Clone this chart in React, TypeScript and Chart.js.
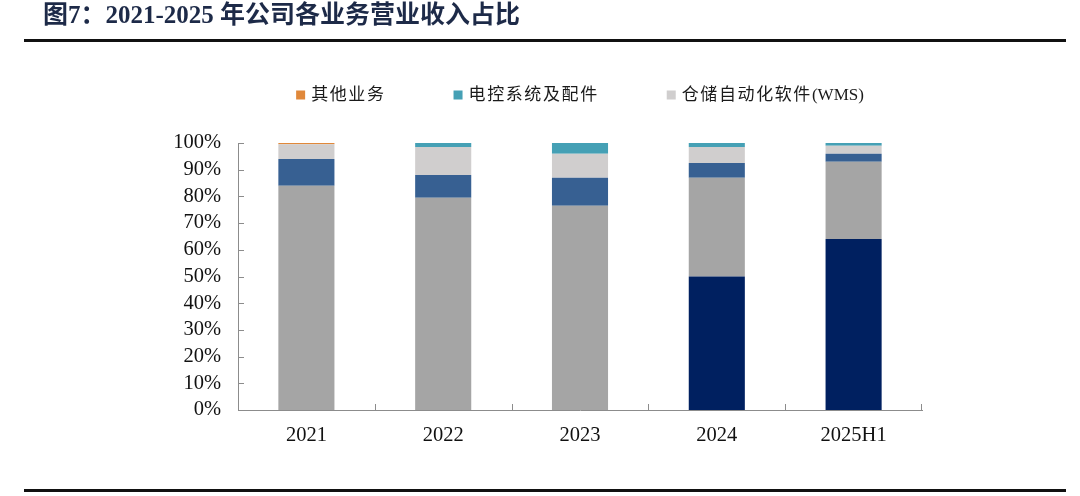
import React, { useEffect, useRef } from 'react';
import { Chart, registerables } from 'chart.js';

Chart.register(...registerables);

const titleText = '图7：2021-2025 年公司各业务营业收入占比';
const categories = ['2021', '2022', '2023', '2024', '2025H1'];
const navySeries = [0, 0, 0, 50, 64];
const graySeries = [84, 79.5, 76.5, 37, 29];
const blueSeries = [10, 8.5, 10.5, 5.5, 3];
const wmsSeries = [5.5, 10.5, 9, 6, 3];
const controlSeries = [0, 1.5, 4, 1.5, 1];
const otherSeries = [0.5, 0, 0, 0, 0];
const legendNames = ['其他业务', '电控系统及配件', '仓储自动化软件(WMS)'];

const SERIF = '"Liberation Serif", "Noto Sans CJK SC", serif';
const AXIS_COLOR = '#8c8c8c';

function runsOf(text: string): { s: string; cjk: boolean }[] {
  const out: { s: string; cjk: boolean }[] = [];
  const re = /[\u3000-\u9fff]+|[^\u3000-\u9fff]+/g;
  let m: RegExpExecArray | null;
  while ((m = re.exec(text))) out.push({ s: m[0], cjk: /[\u3000-\u9fff]/.test(m[0]) });
  return out;
}

function setSpacing(ctx: any, cjk: boolean) {
  try { ctx.letterSpacing = cjk ? '1.6px' : '0px'; } catch (e) {}
}

function measureRuns(ctx: any, text: string) {
  let w = 0;
  runsOf(text).forEach((r) => { setSpacing(ctx, r.cjk); w += ctx.measureText(r.s).width; });
  return w;
}

const legendPlugin = {
  id: 'topLegend',
  afterDraw(chart: any) {
    const ctx = chart.ctx;
    const { left, right, top } = chart.chartArea;
    const items = chart.data.datasets
      .filter((d: any) => legendNames.includes(d.label))
      .sort((a: any, b: any) => legendNames.indexOf(a.label) - legendNames.indexOf(b.label));
    ctx.save();
    ctx.font = `17px ${SERIF}`;
    const box = 9;
    const gapBoxText = 6;
    const gapItems = 68;
    const widths = items.map((d: any) => box + gapBoxText + measureRuns(ctx, d.label));
    const total = widths.reduce((a: number, b: number) => a + b, 0) + gapItems * (items.length - 1);
    let x = (left + right) / 2 - total / 2;
    const y = top - 48;
    ctx.textBaseline = 'middle';
    ctx.textAlign = 'left';
    items.forEach((d: any, i: number) => {
      ctx.fillStyle = d.backgroundColor;
      ctx.fillRect(x, y - box / 2, box, box);
      ctx.fillStyle = '#1a1a1a';
      let tx = x + box + gapBoxText;
      runsOf(d.label).forEach((r) => {
        setSpacing(ctx, r.cjk);
        ctx.fillText(r.s, tx, y + 1);
        tx += ctx.measureText(r.s).width;
      });
      x += widths[i] + gapItems;
    });
    ctx.restore();
  },
};

const insideTicksPlugin = {
  id: 'insideTicks',
  afterDatasetsDraw(chart: any) {
    const ctx = chart.ctx;
    const { left, right, bottom } = chart.chartArea;
    const xs = chart.scales.x;
    const ys = chart.scales.y;
    ctx.save();
    ctx.strokeStyle = AXIS_COLOR;
    ctx.lineWidth = 1;
    ctx.beginPath();
    ys.ticks.forEach((_t: any, i: number) => {
      const py = Math.round(ys.getPixelForTick(i)) + 0.5;
      ctx.moveTo(left, py);
      ctx.lineTo(left + 6, py);
    });
    const n = categories.length;
    for (let i = 1; i < n; i++) {
      const px = Math.round((xs.getPixelForValue(i - 1) + xs.getPixelForValue(i)) / 2) + 0.5;
      ctx.moveTo(px, bottom);
      ctx.lineTo(px, bottom - 6);
    }
    ctx.moveTo(Math.round(right) - 0.5, bottom);
    ctx.lineTo(Math.round(right) - 0.5, bottom - 6);
    ctx.stroke();
    ctx.restore();
  },
};

function ChartCanvas() {
  const ref = useRef<HTMLCanvasElement | null>(null);
  useEffect(() => {
    if (!ref.current) return;
    const mk = (label: string, data: number[], color: string) => ({
      label,
      data,
      backgroundColor: color,
      borderWidth: 0,
      barPercentage: 0.41,
      categoryPercentage: 1,
    });
    const chart = new Chart(ref.current, {
      type: 'bar',
      data: {
        labels: categories,
        datasets: [
          mk('物流机器人', navySeries, '#002060'),
          mk('智能仓储物流系统', graySeries, '#a5a5a5'),
          mk('物流装备', blueSeries, '#376092'),
          mk(legendNames[2], wmsSeries, '#d0cece'),
          mk(legendNames[1], controlSeries, '#45a0b5'),
          mk(legendNames[0], otherSeries, '#e0883a'),
        ],
      },
      options: {
        animation: false,
        responsive: false,
        maintainAspectRatio: false,
        layout: { padding: { left: 158, right: 158, top: 143, bottom: 46 } },
        plugins: { legend: { display: false }, tooltip: { enabled: false } },
        scales: {
          x: {
            stacked: true,
            grid: { display: false, drawTicks: false },
            border: { display: true, color: AXIS_COLOR, width: 1 },
            ticks: { color: '#111', font: { family: SERIF, size: 20.5 }, padding: 13, autoSkip: false, maxRotation: 0 },
            afterFit: (s: any) => { s.height = 40; },
          },
          y: {
            stacked: true,
            min: 0,
            max: 100,
            grid: { display: false, drawTicks: false },
            border: { display: true, color: AXIS_COLOR, width: 1 },
            ticks: {
              stepSize: 10,
              autoSkip: false,
              color: '#111',
              font: { family: SERIF, size: 20.5 },
              padding: 17,
              callback: (v: any) => `${v}%`,
            },
            afterFit: (s: any) => { s.width = 80; },
          },
        },
      },
      plugins: [legendPlugin, insideTicksPlugin],
    });
    return () => chart.destroy();
  }, []);
  return <canvas ref={ref} width={1080} height={496} style={{ position: 'absolute', left: 0, top: 0, width: 1080, height: 496 }} />;
}

export default function App() {
  return (
    <div style={{ position: 'fixed', left: 0, top: 0, width: 1080, height: 496, background: '#fff', overflow: 'hidden' }}>
      <ChartCanvas />
      <div
        style={{
          position: 'absolute',
          left: 43,
          top: 0,
          fontFamily: SERIF,
          fontWeight: 'bold',
          fontSize: 25,
          color: '#1d2a48',
          whiteSpace: 'nowrap',
          lineHeight: '30px',
        }}
      >
        {titleText}
      </div>
      <div style={{ position: 'absolute', left: 24, top: 39, width: 1042, height: 3, background: '#111' }} />
      <div style={{ position: 'absolute', left: 24, top: 489, width: 1042, height: 3, background: '#111' }} />
    </div>
  );
}
